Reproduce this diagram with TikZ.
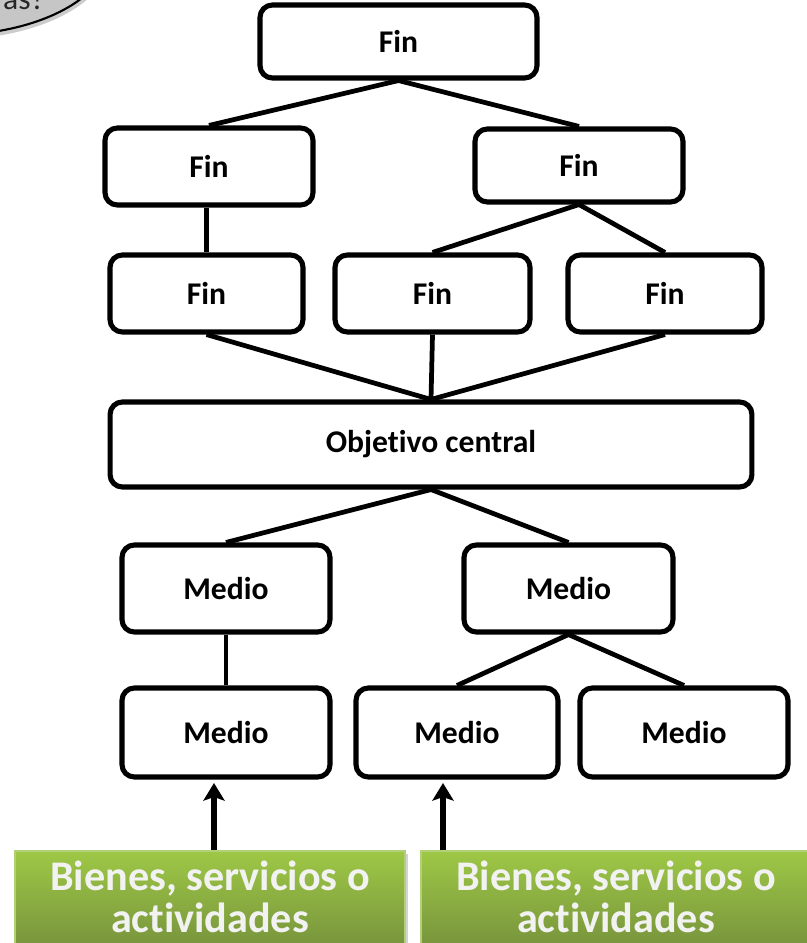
\documentclass[tikz,border=0pt]{standalone}
\usepackage{fontspec}
\setmainfont{Carlito}[Ligatures=NoCommon]
\usetikzlibrary{arrows.meta,shapes.geometric,shadows}
\definecolor{verdeclaro}{RGB}{158,200,70}
\definecolor{verdeoscuro}{RGB}{118,146,60}
\definecolor{bordeverde}{RGB}{178,208,120}

\begin{document}
\begin{tikzpicture}[x=0.02cm,y=-0.02cm,
  caja/.style={draw, line width=2.9pt, rounded corners=7pt, inner sep=0pt, font=\fontsize{18}{20}\selectfont\bfseries},
  linea/.style={line width=2.7pt},
  flecha/.style={line width=3pt, -{Stealth[length=10pt,width=12pt,inset=2pt]}},
  verde/.style={draw=bordeverde, line width=1pt, top color=verdeclaro, bottom color=verdeoscuro,
    text=white!95!black, align=center, inner sep=0pt, minimum width=7.8cm, minimum height=2cm,
    font=\fontsize{24}{24}\selectfont\bfseries,
    drop shadow={opacity=0.35, shadow xshift=1.5pt, shadow yshift=-1.5pt}}]%,>=latex]
  \clip (0,0) rectangle (807,943);
  \useasboundingbox (0,0) rectangle (807,943);
  % globo cortado arriba a la izquierda
  \node[ellipse, draw, line width=1.2pt, fill=gray!45, minimum width=6.4cm, minimum height=3.4cm,
    drop shadow={opacity=0.4, shadow xshift=1pt, shadow yshift=-2.5pt}] (globo) at (-50,-50) {};
  \node[anchor=base west, font=\fontsize{18}{20}\selectfont, text=black!85] (globotxt) at (-3,10) {as?};
  % fines
  \node[caja, minimum width=5.54cm, minimum height=1.46cm] (fin0) at (398.5,41.5) {Fin};
  \node[caja, minimum width=4.16cm, minimum height=1.54cm] (fin1) at (209,166.5) {Fin};
  \node[caja, minimum width=4.16cm, minimum height=1.46cm] (fin2) at (579,165.5) {Fin};
  \node[caja, minimum width=3.86cm, minimum height=1.54cm] (fin3) at (206.5,293.5) {Fin};
  \node[caja, minimum width=3.9cm, minimum height=1.54cm] (fin4) at (432.5,293.5) {Fin};
  \node[caja, minimum width=3.88cm, minimum height=1.54cm] (fin5) at (665,293.5) {Fin};
  \node[caja, minimum width=12.84cm, minimum height=1.7cm] (obj) at (431,444.5) {Objetivo central};
  % medios
  \node[caja, minimum width=4.16cm, minimum height=1.74cm] (med1) at (226,588.5) {Medio};
  \node[caja, minimum width=4.18cm, minimum height=1.74cm] (med2) at (568.5,588.5) {Medio};
  \node[caja, minimum width=4.16cm, minimum height=1.78cm] (med3) at (226,732.5) {Medio};
  \node[caja, minimum width=4.04cm, minimum height=1.78cm] (med4) at (457,732.5) {Medio};
  \node[caja, minimum width=4.16cm, minimum height=1.78cm] (med5) at (684,732.5) {Medio};
  \node[verde] (bien1) at (210,901) {Bienes, servicios o\\actividades\rule[-5pt]{0pt}{5pt}};
  \node[verde] (bien2) at (616,901) {Bienes, servicios o\\actividades\rule[-5pt]{0pt}{5pt}};
  \coordinate (punta1) at (214,783);
  \coordinate (punta2) at (443,783);

  \draw[linea] (fin1.north) -- (fin0.south) -- (fin2.north);
  \draw[linea] (fin1.south -| fin3) -- (fin3.north);
  \draw[linea] (fin4.north) -- (fin2.south) -- (fin5.north);
  \draw[linea] (fin3.south) -- (obj.north) -- (fin5.south);
  \draw[linea] (fin4.south) -- (obj.north);
  \draw[linea] (med1.north) -- (obj.south) -- (med2.north);
  \draw[linea] (med1.south) -- (med3.north);
  \draw[linea] (med4.north) -- (med2.south) -- (med5.north);
  \draw[flecha] (punta1 |- bien1.north) -- (punta1);
  \draw[flecha] (punta2 |- bien2.north) -- (punta2);
\end{tikzpicture}
\end{document}
